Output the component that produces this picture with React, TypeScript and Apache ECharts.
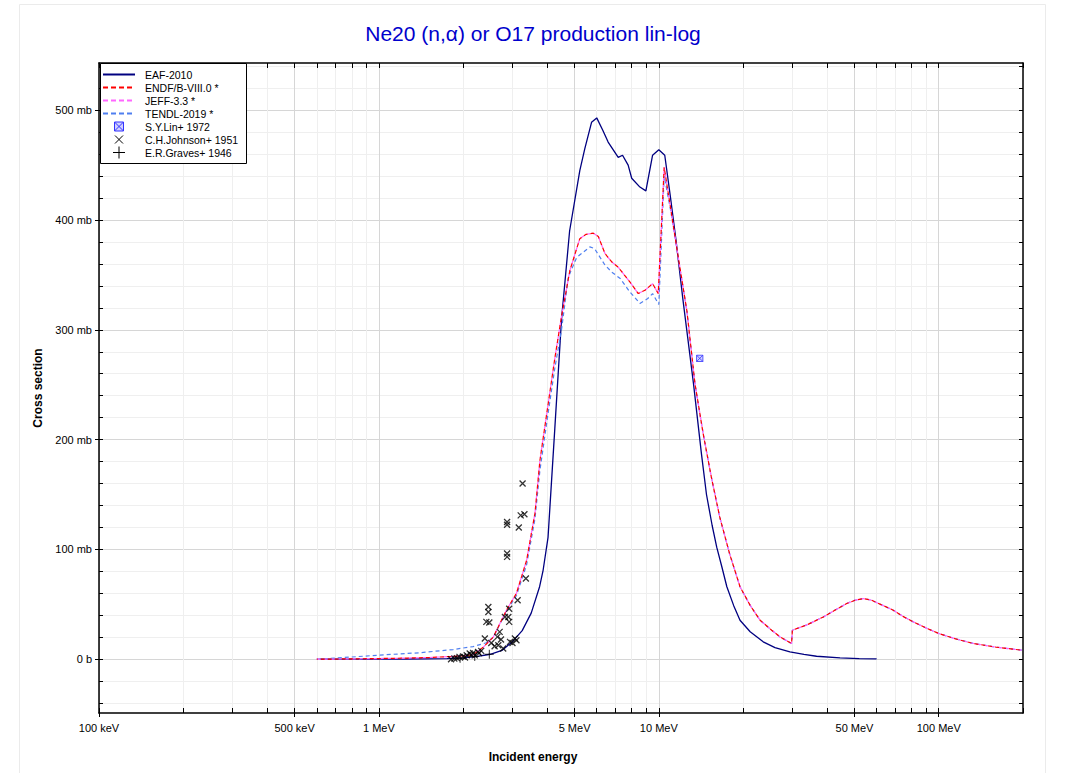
import React, { useEffect, useRef } from 'react';
import * as echarts from 'echarts';

// Energies in MeV, cross sections in mb
const eafData: number[][] = [
  [0.615, 0], [0.8, 0.05], [1.0, 0.1], [1.25, 0.2], [1.5, 0.35], [1.75, 0.6], [2.0, 1.2],
  [2.25, 2.5], [2.5, 4.5], [2.75, 8], [3.0, 16], [3.25, 26], [3.5, 42], [3.75, 66], [3.86, 81],
  [4.02, 111], [4.25, 210], [4.49, 309], [4.8, 390], [5.22, 445], [5.44, 465], [5.75, 489],
  [6.0, 493], [6.3, 482], [6.59, 471], [7.16, 457], [7.42, 459], [7.77, 450], [8.0, 438],
  [8.56, 430], [8.99, 426.5], [9.5, 459], [10.0, 464], [10.5, 459], [11.0, 421], [11.5, 383],
  [12.2, 327], [13.3, 251], [14.2, 187], [14.8, 150], [15.5, 122], [16.1, 102], [16.8, 84],
  [17.5, 66], [18.5, 49], [19.5, 35.5], [21.2, 25], [23.6, 15.8], [26, 10.5], [29.4, 6.7],
  [33, 4.3], [36.6, 2.7], [44.4, 1.2], [52, 0.6], [60, 0.3],
];

const endfData: number[][] = [
  [0.6, 0], [0.8, 0.3], [1.0, 0.6], [1.25, 1.0], [1.5, 1.5], [1.65, 2], [2.0, 3], [2.17, 4],
  [2.36, 11], [2.56, 20], [2.86, 45], [3.1, 60], [3.37, 90], [3.61, 133], [3.76, 181],
  [4.0, 228], [4.25, 274], [4.49, 312], [4.81, 354], [5.22, 383], [5.5, 387], [5.83, 388],
  [6.08, 385], [6.42, 369.5], [6.78, 362], [7.16, 357], [7.88, 343.6], [8.44, 333],
  [8.92, 336], [9.5, 342], [9.95, 333], [10.45, 448], [11.0, 412], [11.5, 380], [12.6, 317],
  [13.46, 251], [14.4, 205.5], [15.4, 166], [16.5, 129.6], [17.9, 96], [19.5, 66], [21.2, 49],
  [23, 35.5], [25.3, 26.4], [27.1, 20.3], [29.8, 14.3], [30, 26.4], [34, 31.5], [38.7, 38.5],
  [42.5, 44.5], [46.9, 50.7], [50, 53.5], [53.8, 55.3], [57.6, 53.7], [62.5, 49.5],
  [68.8, 44.6], [74.5, 39], [81.1, 34], [90, 28.5], [100, 23.4], [115, 18.5], [133, 14.3],
  [160, 11], [198, 8.2],
];

const jeffData: number[][] = [
  [0.6, 0], [0.8, 0.3], [1.0, 0.6], [1.25, 1.0], [1.5, 1.5], [1.65, 2], [2.0, 3], [2.17, 4],
  [2.36, 11], [2.56, 20], [2.86, 45], [3.1, 60], [3.37, 90], [3.61, 133], [3.76, 181],
  [4.0, 228], [4.25, 274], [4.49, 312], [4.81, 354], [5.22, 383], [5.5, 387], [5.83, 388],
  [6.08, 385], [6.42, 369.5], [6.78, 362], [7.16, 357], [7.88, 343.6], [8.44, 333],
  [8.92, 336], [9.5, 342], [9.95, 333], [10.45, 448], [11.0, 412], [11.5, 380], [12.6, 317],
  [13.46, 251], [14.4, 205.5], [15.4, 166], [16.5, 129.6], [17.9, 96], [19.5, 66], [21.2, 49],
  [23, 35.5], [25.3, 26.4], [27.1, 20.3], [29.8, 14.3], [30, 26.4], [34, 31.5], [38.7, 38.5],
  [42.5, 44.5], [46.9, 50.7], [50, 53.5], [53.8, 55.3], [57.6, 53.7], [62.5, 49.5],
  [68.8, 44.6], [74.5, 39], [81.1, 34], [90, 28.5], [100, 23.4], [115, 18.5], [133, 14.3],
  [160, 11], [198, 8.2],
];

const tendlData: number[][] = [
  [0.6, 0], [0.8, 2], [1.0, 3.7], [1.4, 5.9], [1.84, 8.8], [2.17, 11.5], [2.42, 15],
  [2.56, 20], [2.86, 44], [3.1, 58], [3.37, 86], [3.61, 128], [3.76, 172], [4.0, 220],
  [4.25, 265], [4.49, 300], [4.75, 348], [5.09, 366], [5.67, 375.5], [5.89, 374],
  [6.42, 359], [6.78, 352.7], [7.28, 346.7], [7.88, 334.5], [8.56, 324], [9.13, 328.5],
  [9.5, 333], [10.0, 323], [10.45, 440], [11.0, 410], [11.5, 379], [12.6, 317],
  [13.46, 251], [14.4, 205.5], [15.4, 166], [16.5, 129.6], [17.9, 96], [19.5, 66], [21.2, 49],
  [23, 35.5], [25.3, 26.4], [27.1, 20.3], [29.8, 14.3], [30, 26.4], [34, 31.5], [38.7, 38.5],
  [42.5, 44.5], [46.9, 50.7], [50, 53.5], [53.8, 55.3], [57.6, 53.7], [62.5, 49.5],
  [68.8, 44.6], [74.5, 39], [81.1, 34], [90, 28.5], [100, 23.4], [115, 18.5], [133, 14.3],
  [160, 11], [198, 8.2],
];

const linData: number[][] = [[14.0, 274]];

const johnsonData: number[][] = [
  [3.26, 160], [3.21, 131], [3.31, 132], [3.16, 120], [2.87, 122.5], [2.87, 125], [2.87, 93.2],
  [2.87, 96.3], [3.35, 73.5], [2.46, 47.6], [2.46, 43], [2.92, 46], [3.13, 53.7], [2.42, 34],
  [2.48, 33.4], [2.82, 38.5], [2.9, 38.5], [2.92, 34], [2.7, 24.9], [2.39, 18.8], [2.52, 14.8],
  [2.65, 20.3], [2.73, 18], [2.59, 11.8], [2.67, 12.7], [2.78, 9.7], [2.94, 15.8], [3.06, 18.8],
  [3.0, 14.8], [3.1, 17.3], [2.11, 5.2], [2.17, 5.7], [2.26, 6.6], [2.32, 7.6], [2.06, 3.6],
  [1.94, 2.1], [1.86, 0.6], [1.81, 0], [1.9, 1], [2.0, 2.5], [2.03, 1.5], [2.14, 4],
  [2.2, 3.5], [2.28, 5.5],
];

const gravesData: number[][] = [[2.48, 4.5], [2.2, 2.5], [1.95, 0.8]];

const legendNames = ['EAF-2010', 'ENDF/B-VIII.0 *', 'JEFF-3.3 *', 'TENDL-2019 *', 'S.Y.Lin+ 1972', 'C.H.Johnson+ 1951', 'E.R.Graves+ 1946'];

const xRange = [0.1, 200];
const yRange = [-49, 543];
const xMajorTicks = [0.1, 0.5, 1, 5, 10, 50, 100];
const xMinorTicks = [0.2, 0.3, 0.4, 0.6, 0.7, 0.8, 0.9, 2, 3, 4, 6, 7, 8, 9, 20, 30, 40, 60, 70, 80, 90, 200];
const yMajorTicks = [0, 100, 200, 300, 400, 500];
const yMinorTicks = [-40, -20, 20, 40, 60, 80, 120, 140, 160, 180, 220, 240, 260, 280, 320, 340, 360, 380, 420, 440, 460, 480, 520, 540];

const FONT = '"Liberation Sans", Arial, Helvetica, sans-serif';

const lg = (arr: number[][]) => arr.map(([e, v]) => [Math.log10(e), v]);
const lgv = (arr: number[]) => arr.map((e) => Math.log10(e));

const xAllTicks = lgv([...xMajorTicks, ...xMinorTicks]);
const yAllTicks = [...yMajorTicks, ...yMinorTicks];

const fmtE = (v: number) => {
  const e = Math.pow(10, v);
  return e < 0.999 ? `${Math.round(e * 1000)} keV` : `${Math.round(e)} MeV`;
};
const fmtY = (v: number) => (v === 0 ? '0 b' : `${v} mb`);

const CROSS = 'path://M0,0M10,10M2,2L8,8M8,2L2,8';
const PLUS = 'path://M0,0M10,10M5,0.5L5,9.5M0.5,5L9.5,5';
const BOXX = 'path://M0,0M10,10M1.5,1.5L8.5,1.5L8.5,8.5L1.5,8.5ZM1.5,1.5L8.5,8.5M8.5,1.5L1.5,8.5';

const COLORS = { eaf: '#000080', endf: '#ff0000', jeff: '#ff66ff', tendl: '#4f7ff0', lin: '#3333ff' };

function buildLegend() {
  const x0 = 100.5, y0 = 63.5, w = 146, h = 100;
  const rowY = (i: number) => 74.5 + i * 13;
  const els: any[] = [
    { type: 'rect', z: 20, shape: { x: x0, y: y0, width: w, height: h }, style: { fill: '#fff', stroke: '#000', lineWidth: 1 } },
  ];
  const lineSpec = [
    { c: COLORS.eaf, dash: null },
    { c: COLORS.endf, dash: [5, 3] },
    { c: COLORS.jeff, dash: [5, 3] },
    { c: COLORS.tendl, dash: [5, 3] },
  ];
  lineSpec.forEach((s, i) => {
    els.push({ type: 'line', z: 21, shape: { x1: 103, y1: rowY(i), x2: 135, y2: rowY(i) },
      style: { stroke: s.c, lineWidth: 2, lineDash: s.dash || undefined } });
  });
  const cx = 119;
  const ly = rowY(4);
  els.push({ type: 'rect', z: 21, shape: { x: cx - 4.5, y: ly - 4.5, width: 9, height: 9 }, style: { fill: '#d0d0ff', stroke: COLORS.lin, lineWidth: 1 } });
  els.push({ type: 'line', z: 22, shape: { x1: cx - 4.5, y1: ly - 4.5, x2: cx + 4.5, y2: ly + 4.5 }, style: { stroke: COLORS.lin, lineWidth: 1 } });
  els.push({ type: 'line', z: 22, shape: { x1: cx + 4.5, y1: ly - 4.5, x2: cx - 4.5, y2: ly + 4.5 }, style: { stroke: COLORS.lin, lineWidth: 1 } });
  const jy = rowY(5);
  els.push({ type: 'line', z: 21, shape: { x1: cx - 4, y1: jy - 4, x2: cx + 4, y2: jy + 4 }, style: { stroke: '#000', lineWidth: 1 } });
  els.push({ type: 'line', z: 21, shape: { x1: cx + 4, y1: jy - 4, x2: cx - 4, y2: jy + 4 }, style: { stroke: '#000', lineWidth: 1 } });
  const gy = rowY(6);
  els.push({ type: 'line', z: 21, shape: { x1: cx - 6, y1: gy, x2: cx + 6, y2: gy }, style: { stroke: '#000', lineWidth: 1 } });
  els.push({ type: 'line', z: 21, shape: { x1: cx, y1: gy - 6, x2: cx, y2: gy + 6 }, style: { stroke: '#000', lineWidth: 1 } });
  legendNames.forEach((n, i) => {
    els.push({ type: 'text', z: 21, x: 145, y: rowY(i), style: { text: n, fill: '#000', font: `10.5px ${FONT}`, textAlign: 'left', textVerticalAlign: 'middle' } });
  });
  return els;
}

export default function App() {
  const ref = useRef<HTMLDivElement>(null);
  useEffect(() => {
    if (!ref.current) return;
    const chart = echarts.init(ref.current, undefined, { renderer: 'svg' });
    const xmin = Math.log10(xRange[0]);
    const xmax = Math.log10(xRange[1]);
    const dash = [4, 3];
    chart.setOption({
      animation: false,
      backgroundColor: '#fff',
      textStyle: { fontFamily: FONT },
      grid: { left: 99, right: 48, top: 63, bottom: 60, containLabel: false },
      graphic: [
        { type: 'rect', z: -10, silent: true, shape: { x: 19.5, y: 4.5, width: 1026, height: 800 }, style: { fill: 'none', stroke: '#ebebeb', lineWidth: 1 } },
        { type: 'text', x: 533, y: 33, style: { text: 'Ne20 (n,α) or O17 production lin-log', fill: '#0000cc', font: `21px ${FONT}`, textAlign: 'center', textVerticalAlign: 'middle' } },
        { type: 'text', x: 533, y: 757, style: { text: 'Incident energy', fill: '#000', font: `bold 12px ${FONT}`, textAlign: 'center', textVerticalAlign: 'middle' } },
        ...buildLegend(),
      ],
      xAxis: [
        {
          type: 'value', min: xmin, max: xmax, position: 'bottom',
          axisLine: { show: false, onZero: false },
          axisTick: { show: true, inside: true, length: 5, customValues: xAllTicks, lineStyle: { color: '#000' } },
          axisLabel: { show: false },
          splitLine: { show: true, lineStyle: { color: '#efefef', width: 1 } },
        },
        {
          type: 'value', min: xmin, max: xmax, position: 'bottom',
          axisLine: { show: true, onZero: false, lineStyle: { color: '#000', width: 1.5 } },
          axisTick: { show: true, inside: false, length: 4, customValues: lgv(xMajorTicks), lineStyle: { color: '#000' } },
          axisLabel: { show: true, customValues: lgv(xMajorTicks), formatter: fmtE, margin: 9, fontSize: 11, color: '#000', fontFamily: FONT },
          splitLine: { show: true, lineStyle: { color: '#d6d6d6', width: 1 } },
        },
        {
          type: 'value', min: xmin, max: xmax, position: 'top',
          axisLine: { show: true, onZero: false, lineStyle: { color: '#000', width: 1.5 } },
          axisTick: { show: true, inside: true, length: 5, customValues: xAllTicks, lineStyle: { color: '#000' } },
          axisLabel: { show: false },
          splitLine: { show: false },
        },
      ],
      yAxis: [
        {
          type: 'value', min: yRange[0], max: yRange[1], position: 'left',
          axisLine: { show: false, onZero: false },
          axisTick: { show: true, inside: true, length: 4, customValues: yAllTicks, lineStyle: { color: '#000' } },
          axisLabel: { show: false },
          splitLine: { show: true, lineStyle: { color: '#efefef', width: 1 } },
        },
        {
          type: 'value', min: yRange[0], max: yRange[1], position: 'left',
          name: 'Cross section', nameLocation: 'middle', nameGap: 55, nameRotate: 90,
          nameTextStyle: { fontWeight: 'bold', fontSize: 12, color: '#000', fontFamily: FONT },
          axisLine: { show: true, onZero: false, lineStyle: { color: '#000', width: 1.5 } },
          axisTick: { show: true, inside: false, length: 4, customValues: yMajorTicks, lineStyle: { color: '#000' } },
          axisLabel: { show: true, customValues: yMajorTicks, formatter: fmtY, margin: 7, fontSize: 11, color: '#000', fontFamily: FONT },
          splitLine: { show: true, lineStyle: { color: '#d6d6d6', width: 1 } },
        },
        {
          type: 'value', min: yRange[0], max: yRange[1], position: 'right',
          axisLine: { show: true, onZero: false, lineStyle: { color: '#000', width: 1.5 } },
          axisTick: { show: true, inside: true, length: 4, customValues: yAllTicks, lineStyle: { color: '#000' } },
          axisLabel: { show: false },
          splitLine: { show: false },
        },
      ],
      series: [
        { name: 'EAF-2010', type: 'line', data: lg(eafData), symbol: 'none', showSymbol: false, z: 3,
          lineStyle: { color: COLORS.eaf, width: 1.3, type: 'solid' }, itemStyle: { color: COLORS.eaf } },
        { name: 'TENDL-2019 *', type: 'line', data: lg(tendlData), symbol: 'none', showSymbol: false, z: 3,
          lineStyle: { color: COLORS.tendl, width: 1.2, type: dash }, itemStyle: { color: COLORS.tendl } },
        { name: 'JEFF-3.3 *', type: 'line', data: lg(jeffData), symbol: 'none', showSymbol: false, z: 3,
          lineStyle: { color: COLORS.jeff, width: 1.2, type: dash }, itemStyle: { color: COLORS.jeff } },
        { name: 'ENDF/B-VIII.0 *', type: 'line', data: lg(endfData), symbol: 'none', showSymbol: false, z: 3,
          lineStyle: { color: COLORS.endf, width: 1.2, type: dash, dashOffset: 3 }, itemStyle: { color: COLORS.endf } },
        { name: 'S.Y.Lin+ 1972', type: 'scatter', data: lg(linData), symbol: BOXX, symbolSize: 9, z: 4,
          itemStyle: { color: '#c8c8ff', borderColor: COLORS.lin, borderWidth: 1 } },
        { name: 'C.H.Johnson+ 1951', type: 'scatter', data: lg(johnsonData), symbol: CROSS, symbolSize: 10, z: 4,
          itemStyle: { color: 'none', borderColor: '#000', borderWidth: 1.3 } },
        { name: 'E.R.Graves+ 1946', type: 'scatter', data: lg(gravesData), symbol: PLUS, symbolSize: 10, z: 4,
          itemStyle: { color: 'none', borderColor: '#000', borderWidth: 1 } },
      ],
    });
    return () => chart.dispose();
  }, []);
  return <div ref={ref} style={{ position: 'absolute', left: 0, top: 0, width: 1071, height: 773 }} />;
}
